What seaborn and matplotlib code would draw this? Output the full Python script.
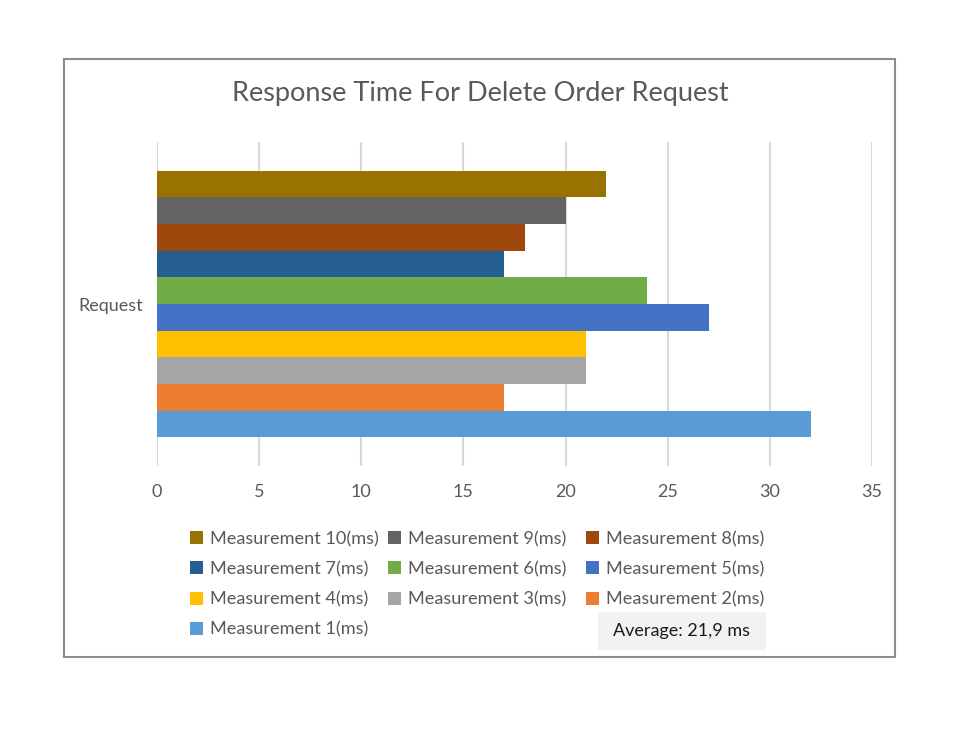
import seaborn as sns
import pandas as pd
import matplotlib.pyplot as plt
from matplotlib.patches import Patch, Rectangle

sns.set_style('white')
plt.rcParams['font.family'] = ['Lato', 'DejaVu Sans']

# data
measurements = ['Measurement 10(ms)', 'Measurement 9(ms)', 'Measurement 8(ms)',
                'Measurement 7(ms)', 'Measurement 6(ms)', 'Measurement 5(ms)',
                'Measurement 4(ms)', 'Measurement 3(ms)', 'Measurement 2(ms)',
                'Measurement 1(ms)']
times = [22, 20, 18, 17, 24, 27, 21, 21, 17, 32]
colors = ['#997300', '#636363', '#9e480e', '#255e91', '#70ad47',
          '#4472c4', '#ffc000', '#a5a5a5', '#ed7d31', '#5b9bd5']
category = 'Request'
xticks = [0, 5, 10, 15, 20, 25, 30, 35]

df = pd.DataFrame({'cat': [category] * len(times), 'meas': measurements, 'ms': times})
avg = df['ms'].mean()

txt = '#595959'
fs = 13
fig = plt.figure(figsize=(9.78, 7.35), dpi=100)
ax = fig.add_axes([157/978, 1-466/735, (872-157)/978, (466-142)/735])

sns.barplot(data=df, x='ms', y='cat', hue='meas', hue_order=measurements,
            palette=colors, orient='h', width=0.824, saturation=1,
            linewidth=0, ax=ax, legend=False)

ax.set_xlim(0, 35)
ax.set_ylim(0.5, -0.5)
ax.set_xticks(xticks)
ax.grid(axis='x', color='#d9d9d9', linewidth=1.5)
ax.set_axisbelow(True)
sns.despine(ax=ax, left=True, bottom=True)
ax.tick_params(length=0, labelsize=fs, labelcolor=txt)
ax.tick_params(axis='x', pad=13)
ax.tick_params(axis='y', pad=10)
ax.set_xlabel('')
ax.set_ylabel('')

fig.text(480/978, 1-93/735, 'Response Time For Delete Order Request',
         ha='center', va='center', fontsize=19.5, color=txt)

# legend: rows go left to right like Excel, columns on a fixed pitch
for col, x0 in enumerate([190, 388, 586]):
    idx = list(range(col, len(measurements), 3))
    fig.legend([Patch(facecolor=colors[i], edgecolor='none') for i in idx],
               [measurements[i] for i in idx],
               loc='upper left', bbox_to_anchor=(x0/978, 1-531/735),
               frameon=False, fontsize=13.1, labelcolor=txt,
               handlelength=0.72, handleheight=0.72, handletextpad=0.4,
               labelspacing=0.77, borderpad=0, borderaxespad=0)

fig.patches.append(Rectangle((598/978, 1-650/735), 168/978, 38/735,
                             transform=fig.transFigure, facecolor='#f2f2f2',
                             edgecolor='none'))
fig.text(682/978, 1-631/735, 'Average: ' + f'{avg:.1f}'.replace('.', ',') + ' ms',
         ha='center', va='center', fontsize=fs, color='#1a1a1a')

fig.patches.append(Rectangle((64/978, 1-657/735), 831/978, 598/735,
                             transform=fig.transFigure, facecolor='none',
                             edgecolor='#8c8c8c', linewidth=1.5))

fig.savefig('out.png', dpi=100)
